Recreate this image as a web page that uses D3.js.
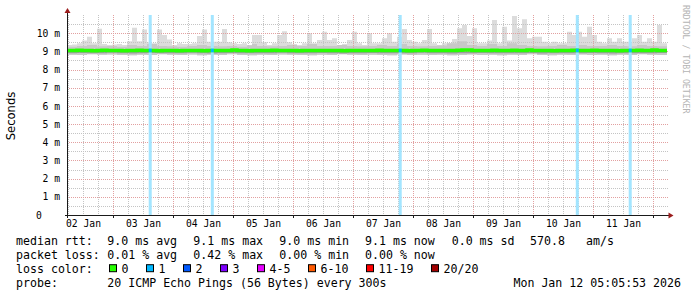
<!DOCTYPE html>
<html>
<head>
<meta charset="utf-8">
<script src="https://cdn.jsdelivr.net/npm/d3@7/dist/d3.min.js"></script>
<style>
    html, body { margin: 0; padding: 0; background: #fff; }
    svg { display: block; }
    text { font-family: "DejaVu Sans Mono", monospace; fill: #000; }
</style>
</head>
<body>
<div id="chart"></div>
<script>
// time window of the graph (10 days)
const timeStart = new Date(Date.UTC(2026, 0, 2, 5, 36));
const timeEnd = new Date(Date.UTC(2026, 0, 12, 5, 36));

// median rtt and max ping, in ms, one value per 2 hours
const rttMedian = [
    9.05, 9.05, 9.06, 9.05, 9.05, 9.04, 9.05, 9.06, 9.05, 9.05,
    9.05, 9.04, 9.05, 9.05, 9.06, 9.05, 9.05, 9.05, 9.04, 9.05,
    9.05, 9.05, 9.04, 9.05, 9.05, 9.05, 9.05, 9.04, 9.05, 9.05,
    9.05, 9.05, 9.05, 9.08, 9.05, 9.05, 9.04, 9.05, 9.05, 9.05,
    9.05, 9.06, 9.05, 9.05, 9.05, 9.05, 9.04, 9.05, 9.05, 9.05,
    9.05, 9.05, 9.05, 9.05, 9.05, 9.04, 9.05, 9.05, 9.05, 9.05,
    9.05, 9.05, 9.06, 9.05, 9.05, 9.05, 9.05, 9.05, 9.04, 9.05,
    9.05, 9.06, 9.05, 9.05, 9.05, 9.05, 9.05, 9.05, 9.06, 9.08,
    9.08, 9.05, 9.05, 9.05, 9.05, 9.06, 9.05, 9.05, 9.05, 9.06,
    9.05, 9.05, 9.08, 9.05, 9.05, 9.05, 9.05, 9.04, 9.05, 9.05,
    9.05, 9.06, 9.05, 9.05, 9.05, 9.06, 9.05, 9.05, 9.05, 9.05,
    9.04, 9.05, 9.05, 9.05, 9.06, 9.05, 9.05, 9.07, 9.05, 9.05
];
const pingMax = [
    9.35, 9.38, 9.45, 9.6, 9.8, 9.45, 10.25, 9.4, 9.35, 9.38,
    9.4, 9.35, 9.55, 10.3, 9.55, 10.2, 9.5, 9.44, 10.2, 9.9,
    9.65, 9.35, 9.44, 9.4, 9.4, 9.44, 9.85, 10.2, 9.53, 9.53,
    9.53, 10.23, 9.5, 9.44, 9.4, 9.44, 9.33, 9.9, 9.9, 9.5,
    9.35, 9.44, 9.9, 10.1, 9.5, 9.4, 9.35, 9.44, 10.0, 9.44,
    9.63, 10.08, 9.63, 9.72, 9.35, 9.4, 9.63, 10.08, 9.44, 9.35,
    10.0, 9.44, 9.44, 9.72, 10.0, 9.53, 9.8, 10.23, 9.63, 9.53,
    9.44, 9.63, 10.23, 9.44, 9.35, 9.44, 9.44, 9.68, 10.27, 10.45,
    9.85, 10.27, 9.44, 9.44, 9.6, 10.73, 9.44, 10.36, 9.6, 10.95,
    10.27, 10.76, 9.72, 9.81, 9.81, 9.53, 9.44, 9.53, 9.44, 9.44,
    10.08, 9.9, 10.08, 9.81, 10.36, 9.9, 9.53, 9.44, 9.72, 9.53,
    9.72, 9.53, 9.53, 9.72, 9.9, 9.53, 9.72, 9.53, 10.45, 9.44
];

// inner smoke bands, in ms, one value per 4 hours
const pingHigh = [
    9.25, 9.3, 9.35, 9.28, 9.3, 9.25, 9.35, 9.3, 9.4, 9.3,
    9.28, 9.25, 9.3, 9.35, 9.3, 9.28, 9.3, 9.25, 9.4, 9.3,
    9.28, 9.3, 9.35, 9.3, 9.4, 9.3, 9.3, 9.35, 9.3, 9.28,
    9.3, 9.35, 9.3, 9.4, 9.3, 9.28, 9.3, 9.32, 9.45, 9.55,
    9.35, 9.3, 9.4, 9.3, 9.45, 9.35, 9.3, 9.28, 9.3, 9.35,
    9.3, 9.35, 9.3, 9.3, 9.35, 9.3, 9.28, 9.35, 9.3, 9.28
];
const pingLow = [
    8.9, 8.91, 8.89, 8.9, 8.92, 8.9, 8.88, 8.9, 8.91, 8.9,
    8.89, 8.9, 8.92, 8.9, 8.88, 8.9, 8.91, 8.9, 8.89, 8.9,
    8.9, 8.92, 8.9, 8.89, 8.9, 8.91, 8.9, 8.88, 8.9, 8.9,
    8.91, 8.9, 8.89, 8.9, 8.9, 8.92, 8.9, 8.89, 8.88, 8.9,
    8.9, 8.91, 8.9, 8.89, 8.9, 8.9, 8.91, 8.88, 8.9, 8.9,
    8.89, 8.9, 8.91, 8.9, 8.88, 8.9, 8.9, 8.89, 8.9, 8.91
];
const pingMin = [
    8.82, 8.8, 8.84, 8.81, 8.83, 8.8, 8.78, 8.82, 8.8, 8.84,
    8.81, 8.8, 8.83, 8.79, 8.82, 8.8, 8.84, 8.8, 8.78, 8.82,
    8.8, 8.83, 8.81, 8.8, 8.78, 8.82, 8.8, 8.84, 8.81, 8.8,
    8.82, 8.8, 8.79, 8.83, 8.8, 8.81, 8.8, 8.82, 8.78, 8.8,
    8.83, 8.8, 8.81, 8.79, 8.82, 8.8, 8.84, 8.8, 8.78, 8.82,
    8.8, 8.83, 8.8, 8.81, 8.79, 8.82, 8.8, 8.84, 8.81, 8.8
];

// samples with packet loss (pings lost out of 20)
const lossTimes = ['2026-01-03T14:53Z', '2026-01-04T15:43Z', '2026-01-07T18:53Z', '2026-01-10T17:43Z', '2026-01-11T14:53Z'];
const lossCounts = [1, 1, 1, 1, 1];

// y axis ticks, ms
const yMajorTicks = [0, 1, 2, 3, 4, 5, 6, 7, 8, 9, 10];
const yMinorTicks = [0.5, 1.5, 2.5, 3.5, 4.5, 5.5, 6.5, 7.5, 8.5, 9.5, 10.5];

// legend
const rttStats = ['9.0 ms avg', '9.1 ms max', '9.0 ms min', '9.1 ms now', '0.0 ms sd', '570.8', 'am/s'];
const lossStats = ['0.01 % avg', '0.42 % max', '0.00 % min', '0.00 % now'];
const lossLabels = ['0', '1', '2', '3', '4-5', '6-10', '11-19', '20/20'];
const lossColors = ['#26ff00', '#00b8ff', '#0059ff', '#7e00ff', '#e600ff', '#ff5a00', '#ff0000', '#a10000'];
const probeText = '20 ICMP Echo Pings (56 Bytes) every 300s';
const stampText = 'Mon Jan 12 05:05:53 2026';

/**
 * LAYOUT
 * */
const width = 697;
const height = 297;
const plot = {left: 67, right: 667, top: 15, bottom: 215};
const statCols = [107.3, 193.3, 279.3, 365, 451.7, 530, 586];
const charW = 7;

const svg = d3.select('#chart').append('svg')
    .attr('width', width)
    .attr('height', height)
    .attr('viewBox', `0 0 ${width} ${height}`);

const x = d3.scaleUtc().domain([timeStart, timeEnd]).range([plot.left, plot.right]);
const y = d3.scaleLinear().domain([0, 11]).range([plot.bottom, plot.top]);

// one record per 2h bin, inner bands come from the 4h arrays
const smoke = pingMax.map((max, i) => {
    const j = Math.floor(i / 2);
    return {
        t: d3.utcHour.offset(timeStart, i * 2),
        max,
        high: Math.min(pingHigh[j], max),
        low: pingLow[j],
        min: pingMin[j],
        median: rttMedian[i],
    };
});
smoke.push({...smoke[smoke.length - 1], t: timeEnd});

/**
 * SMOKE
 * */
const addBand = (lowKey, highKey, color) => {
    const area = d3.area()
        .curve(d3.curveStepAfter)
        .x(d => x(d.t))
        .y0(d => y(d[lowKey]))
        .y1(d => y(d[highKey]));
    svg.append('path')
        .datum(smoke)
        .attr('fill', color)
        .attr('d', area);
};
addBand('min', 'max', '#dcdcdc');
addBand('min', 'high', '#c8c8c8');
addBand('low', 'median', '#9c9c9c');

/**
 * GRID
 * */
const grid = svg.append('g').attr('stroke-width', 1).attr('stroke-dasharray', '1,1').attr('fill', 'none');

const minorTimes = d3.utcHour.every(6).range(timeStart, timeEnd).filter(t => t.getUTCHours() !== 0);
const majorTimes = d3.utcDay.range(timeStart, timeEnd);

grid.selectAll('.vminor').data(minorTimes).join('line')
    .attr('x1', d => Math.round(x(d)) + 0.5).attr('x2', d => Math.round(x(d)) + 0.5)
    .attr('y1', plot.top).attr('y2', plot.bottom)
    .attr('stroke', '#c4c4c4');
grid.selectAll('.hminor').data(yMinorTicks).join('line')
    .attr('x1', plot.left).attr('x2', plot.right + 1)
    .attr('y1', d => Math.round(y(d)) + 0.5).attr('y2', d => Math.round(y(d)) + 0.5)
    .attr('stroke', '#c4c4c4');
grid.selectAll('.vmajor').data(majorTimes).join('line')
    .attr('x1', d => Math.round(x(d)) + 0.5).attr('x2', d => Math.round(x(d)) + 0.5)
    .attr('y1', plot.top).attr('y2', plot.bottom)
    .attr('stroke', '#e2a0a0');
grid.selectAll('.hmajor').data(yMajorTicks.slice(1)).join('line')
    .attr('x1', plot.left).attr('x2', plot.right + 1)
    .attr('y1', d => Math.round(y(d)) + 0.5).attr('y2', d => Math.round(y(d)) + 0.5)
    .attr('stroke', '#e2a0a0');

/**
 * LOSS + MEDIAN
 * */
const lossData = lossTimes.map((s, i) => ({t: new Date(s), lost: lossCounts[i]}));
const halfBar = 36; // minutes
const lightLoss = c => d3.interpolateRgb('#ffffff', c)(0.36);

svg.selectAll('.loss').data(lossData).join('rect')
    .attr('x', d => x(d3.utcMinute.offset(d.t, -halfBar)))
    .attr('width', d => x(d3.utcMinute.offset(d.t, halfBar)) - x(d3.utcMinute.offset(d.t, -halfBar)))
    .attr('y', plot.top)
    .attr('height', plot.bottom - plot.top)
    .attr('fill', d => lightLoss(lossColors[d.lost]));

const medianLine = d3.line()
    .curve(d3.curveStepAfter)
    .x(d => x(d.t))
    .y(d => y(d.median));

svg.append('path')
    .datum(smoke)
    .attr('fill', 'none')
    .attr('stroke', lossColors[0])
    .attr('stroke-width', 3.5)
    .attr('d', medianLine);

const binOf = t => smoke[Math.floor((t - timeStart) / 7200000)];
svg.selectAll('.lossMedian').data(lossData).join('line')
    .attr('x1', d => x(d3.utcMinute.offset(d.t, -halfBar)))
    .attr('x2', d => x(d3.utcMinute.offset(d.t, halfBar)))
    .attr('y1', d => y(binOf(d.t).median))
    .attr('y2', d => y(binOf(d.t).median))
    .attr('stroke', d => lossColors[d.lost])
    .attr('stroke-width', 3.5);

/**
 * AXES
 * */
const noonTimes = d3.utcDay.range(d3.utcDay.floor(timeStart), timeEnd)
    .map(d => d3.utcHour.offset(d, 12))
    .filter(d => d >= timeStart && d <= timeEnd);

const xAxis = d3.axisBottom(x)
    .tickValues(noonTimes)
    .tickFormat(d3.utcFormat('%d %b'))
    .tickSize(0)
    .tickPadding(5.6);
const xAxisG = svg.append('g').attr('transform', `translate(0, ${plot.bottom})`).call(xAxis);
xAxisG.select('.domain').remove();
xAxisG.selectAll('text').style('font-size', '9.7px').attr('font-family', null);

const yAxis = d3.axisLeft(y)
    .tickValues(yMajorTicks)
    .tickFormat(d => (d === 0 ? '0' : `${d} m`))
    .tickSize(0)
    .tickPadding(7);
const yAxisG = svg.append('g').attr('transform', `translate(${plot.left}, 0)`).call(yAxis);
yAxisG.select('.domain').remove();
yAxisG.selectAll('text').style('font-size', '9.7px').attr('font-family', null);
yAxisG.selectAll('.tick').filter(d => d === 0).select('text')
    .attr('text-anchor', 'start')
    .attr('x', -31);

// axis lines, ticks and arrows
const axisColor = '#1a1a1a';
svg.append('line')
    .attr('x1', plot.left + 0.5).attr('x2', plot.left + 0.5)
    .attr('y1', plot.bottom + 3).attr('y2', plot.top - 5)
    .attr('stroke', axisColor);
svg.append('line')
    .attr('x1', plot.left - 2).attr('x2', plot.right + 3)
    .attr('y1', plot.bottom + 0.5).attr('y2', plot.bottom + 0.5)
    .attr('stroke', axisColor);
svg.selectAll('.xtick').data(majorTimes).join('line')
    .attr('x1', d => Math.round(x(d)) + 0.5).attr('x2', d => Math.round(x(d)) + 0.5)
    .attr('y1', plot.bottom).attr('y2', plot.bottom + 3)
    .attr('stroke', axisColor);

const arrowColor = '#9b1c1c';
svg.append('path')
    .attr('d', `M${plot.left - 2.5},${plot.top - 2} L${plot.left + 3.5},${plot.top - 2} L${plot.left + 0.5},${plot.top - 7} Z`)
    .attr('fill', arrowColor);
svg.append('path')
    .attr('d', `M${plot.right + 1.5},${plot.bottom - 2.5} L${plot.right + 1.5},${plot.bottom + 3.5} L${plot.right + 6.5},${plot.bottom + 0.5} Z`)
    .attr('fill', arrowColor);

// y axis title
svg.append('text')
    .attr('transform', `translate(15, ${(plot.top + plot.bottom) / 2 + 1}) rotate(-90)`)
    .attr('text-anchor', 'middle')
    .style('font-family', '"DejaVu Sans", sans-serif')
    .style('font-size', '11.6px')
    .text('Seconds');

// watermark
svg.append('text')
    .attr('transform', 'translate(683, 5) rotate(90)')
    .style('font-size', '8.2px')
    .style('fill', '#b4b4b4')
    .text('RRDTOOL / TOBI OETIKER');

/**
 * LEGEND
 * */
const legend = svg.append('g').style('font-size', '11.6px');
const rowY = [244.8, 259, 273.2, 287.4];

legend.append('text').attr('x', 16).attr('y', rowY[0]).text('median rtt:');
rttStats.forEach((s, i) => legend.append('text').attr('x', statCols[i]).attr('y', rowY[0]).text(s));

legend.append('text').attr('x', 16).attr('y', rowY[1]).text('packet loss:');
lossStats.forEach((s, i) => legend.append('text').attr('x', statCols[i]).attr('y', rowY[1]).text(s));

legend.append('text').attr('x', 16).attr('y', rowY[2]).text('loss color:');
let cursor = 109;
lossLabels.forEach((label, i) => {
    legend.append('rect')
        .attr('x', cursor + 0.5).attr('y', rowY[2] - 8.5)
        .attr('width', 7).attr('height', 7)
        .attr('fill', lossColors[i])
        .attr('stroke', '#000')
        .attr('stroke-width', 1);
    legend.append('text').attr('x', cursor + 12.5).attr('y', rowY[2]).text(label);
    cursor += 30 + charW * label.length;
});

legend.append('text').attr('x', 16).attr('y', rowY[3]).text('probe:');
legend.append('text').attr('x', statCols[0]).attr('y', rowY[3]).text(probeText);
legend.append('text').attr('x', 681).attr('y', rowY[3]).attr('text-anchor', 'end').text(stampText);
</script>
</body>
</html>
